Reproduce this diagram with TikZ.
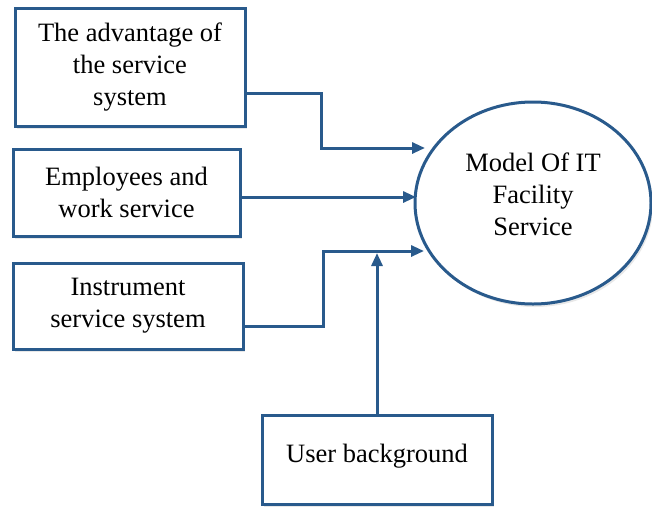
\documentclass[tikz,border=0pt]{standalone}
\usepackage{fontspec}
\setmainfont{Liberation Serif}
\usetikzlibrary{arrows.meta,shapes.geometric,shadows}
\definecolor{lineblue}{RGB}{41,90,140}
\tikzset{
  box/.style={draw=lineblue, line width=3pt, fill=white, rectangle, inner sep=0pt,
    align=center, font=\fontsize{26.5}{32}\selectfont,
    drop shadow={opacity=0.18, shadow xshift=2pt, shadow yshift=-3pt}},
  oval/.style={draw=lineblue, line width=3pt, fill=white, ellipse, inner sep=0pt,
    drop shadow={opacity=0.18, shadow xshift=2pt, shadow yshift=-3pt}},
  conn/.style={draw=lineblue, line width=3pt,
    -{Triangle[length=13pt,width=11pt]}},
  plain/.style={draw=lineblue, line width=3pt},
  lbl/.style={align=center, font=\fontsize{26.5}{32}\selectfont}
}
\begin{document}
\begin{tikzpicture}[x=1pt,y=-1pt]
\useasboundingbox (0,0) rectangle (652,506);
\node[box, minimum width=230pt, minimum height=118pt] (b1) at (130,67)
  {The advantage of\\the service\\system};
\node[box, minimum width=227pt, minimum height=87pt] (b2) at (126.5,192.5)
  {Employees and\\work service};
\node[box, minimum width=230pt, minimum height=86pt] (b3) at (128,306)
  {Instrument\\service system};
\node[box, minimum width=230pt, minimum height=89pt,
  label={[lbl, yshift=3.5pt]center:User background}] (b4) at (377,459.5) {};
\node[oval, minimum width=236pt, minimum height=202pt,
  label={[lbl, yshift=9pt]center:Model Of IT\\Facility\\Service}] (m) at (533,203) {};
% connector coordinates
\coordinate (c1) at (321,93);
\coordinate (t1) at (425,148);
\coordinate (t2) at (416,197);
\coordinate (c3) at (323,326);
\coordinate (t3) at (424,251);
\coordinate (j) at (377,253);
\draw[conn] (b1.east |- c1) -- (c1) |- (t1);
\draw[conn] (b2.east |- t2) -- (t2);
\draw[conn] (b3.east |- c3) -- (c3) |- (t3);
\draw[conn] (b4.north) -- (j);
\end{tikzpicture}
\end{document}
